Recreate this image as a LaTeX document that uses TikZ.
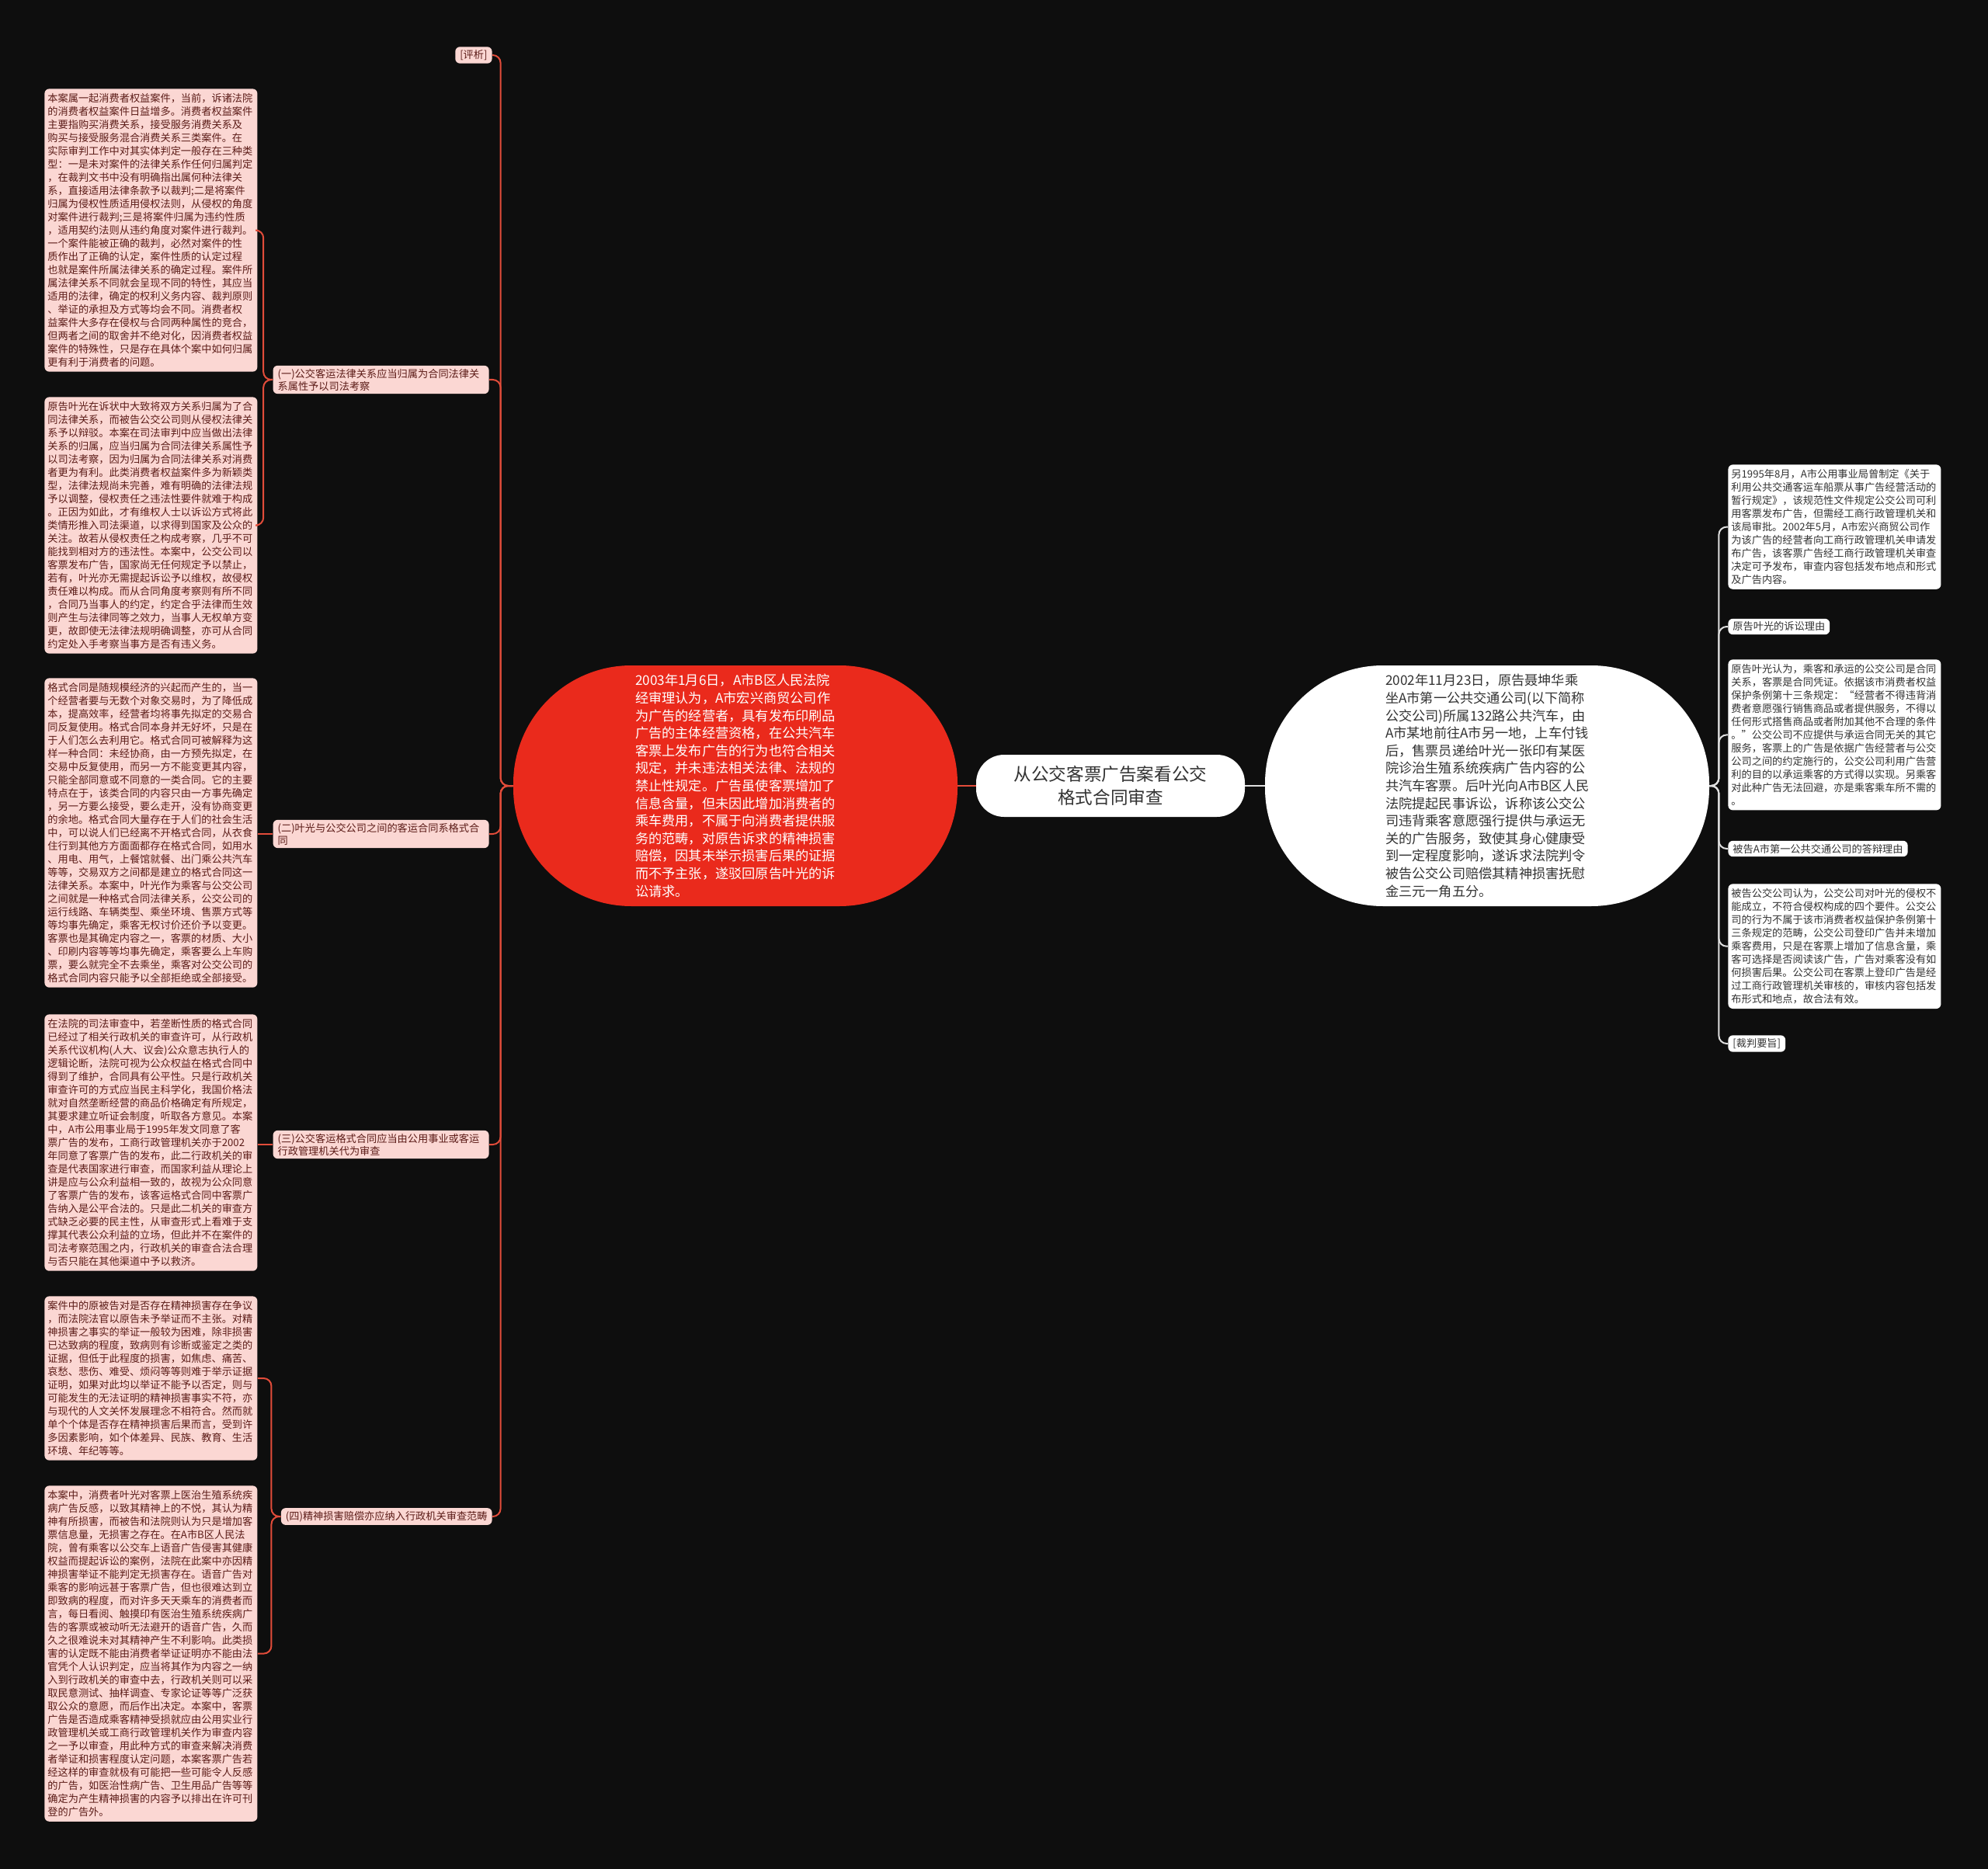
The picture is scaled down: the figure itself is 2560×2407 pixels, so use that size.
\documentclass[tikz,border=0pt]{standalone}
\usepackage{fontspec}
\setmainfont{Noto Sans CJK SC}
\definecolor{mmback}{RGB}{14,14,14}
\definecolor{mmpink}{RGB}{251,215,211}
\definecolor{mmmaroon}{RGB}{92,28,24}
\definecolor{mmred}{RGB}{234,42,28}
\definecolor{mmline}{RGB}{226,76,58}
\definecolor{mmgrey}{RGB}{222,222,222}
\definecolor{mmink}{RGB}{51,51,51}

\begin{document}
\begin{tikzpicture}[x=0.5pt,y=-0.5pt,
    leftnote/.style={anchor=north west, fill=mmpink, text=mmmaroon, rounded corners=3pt, inner xsep=2pt, inner ysep=3pt, text width=133pt, align=left, font=\fontsize{6.6pt}{8.5pt}\selectfont},
    rightnote/.style={leftnote, fill=white, text=mmink},
    leftlabel/.style={anchor=east, fill=mmpink, text=mmmaroon, rounded corners=3pt, inner xsep=3pt, inner ysep=2pt, align=left, font=\fontsize{6.6pt}{8pt}\selectfont},
    rightlabel/.style={leftlabel, anchor=west, fill=white, text=mmink},
    casenode/.style={rounded corners=76pt, minimum width=286pt, minimum height=155pt, align=left, font=\fontsize{8.6pt}{11.3pt}\selectfont},
    leftlink/.style={draw=mmline, line width=1pt, rounded corners=5pt},
    rightlink/.style={leftlink, draw=mmgrey}]
    % Fondo
    \fill[mmback] (0,0) rectangle (2560,2407);

    % Tema central y los dos casos
    \node[fill=white, text=mmink, rounded corners=18pt, minimum width=173pt, minimum height=40pt, align=center, font=\fontsize{11.3pt}{14.7pt}\selectfont] (title) at (1430,1012) {从公交客票广告案看公交\\格式合同审查};
    \node[casenode, fill=mmred, text=white, text width=129pt] (ruling) at (947,1012) {2003年1月6日，A市B区人民法院\\经审理认为，A市宏兴商贸公司作\\为广告的经营者，具有发布印刷品\\广告的主体经营资格，在公共汽车\\客票上发布广告的行为也符合相关\\规定，并未违法相关法律、法规的\\禁止性规定。广告虽使客票增加了\\信息含量，但未因此增加消费者的\\乘车费用，不属于向消费者提供服\\务的范畴，对原告诉求的精神损害\\赔偿，因其未举示损害后果的证据\\而不予主张，遂驳回原告叶光的诉\\讼请求。};
    \node[casenode, fill=white, text=mmink, text width=131pt] (facts) at (1915,1012) {2002年11月23日，原告聂坤华乘\\坐A市第一公共交通公司(以下简称\\公交公司)所属132路公共汽车，由\\A市某地前往A市另一地，上车付钱\\后，售票员递给叶光一张印有某医\\院诊治生殖系统疾病广告内容的公\\共汽车客票。后叶光向A市B区人民\\法院提起民事诉讼，诉称该公交公\\司违背乘客意愿强行提供与承运无\\关的广告服务，致使其身心健康受\\到一定程度影响，遂诉求法院判令\\被告公交公司赔偿其精神损害抚慰\\金三元一角五分。};
    \draw[leftlink] (ruling.east) -- (title.west);
    \draw[rightlink] (title.east) -- (facts.west);

    % Rama izquierda: etiquetas
    \node[leftlabel] (pj) at (634,71) {[评析]};
    \node[leftlabel, text width=133pt] (l1) at (630,489) {(一)公交客运法律关系应当归属为合同法律关\\系属性予以司法考察};
    \node[leftlabel, text width=133pt] (l2) at (630,1074) {(二)叶光与公交公司之间的客运合同系格式合\\同};
    \node[leftlabel, text width=133pt] (l3) at (630,1474) {(三)公交客运格式合同应当由公用事业或客运\\行政管理机关代为审查};
    \node[leftlabel] (l4) at (634,1953) {(四)精神损害赔偿亦应纳入行政机关审查范畴};

    % Rama izquierda: textos
    \node[leftnote] (n1) at (57,114) {本案属一起消费者权益案件，当前，诉诸法院\\的消费者权益案件日益增多。消费者权益案件\\主要指购买消费关系，接受服务消费关系及\\购买与接受服务混合消费关系三类案件。在\\实际审判工作中对其实体判定一般存在三种类\\型：一是未对案件的法律关系作任何归属判定\\，在裁判文书中没有明确指出属何种法律关\\系，直接适用法律条款予以裁判;二是将案件\\归属为侵权性质适用侵权法则，从侵权的角度\\对案件进行裁判;三是将案件归属为违约性质\\，适用契约法则从违约角度对案件进行裁判。\\一个案件能被正确的裁判，必然对案件的性\\质作出了正确的认定，案件性质的认定过程\\也就是案件所属法律关系的确定过程。案件所\\属法律关系不同就会呈现不同的特性，其应当\\适用的法律，确定的权利义务内容、裁判原则\\、举证的承担及方式等均会不同。消费者权\\益案件大多存在侵权与合同两种属性的竞合，\\但两者之间的取舍并不绝对化，因消费者权益\\案件的特殊性，只是存在具体个案中如何归属\\更有利于消费者的问题。};
    \node[leftnote] (n2) at (57,511) {原告叶光在诉状中大致将双方关系归属为了合\\同法律关系，而被告公交公司则从侵权法律关\\系予以辩驳。本案在司法审判中应当做出法律\\关系的归属，应当归属为合同法律关系属性予\\以司法考察，因为归属为合同法律关系对消费\\者更为有利。此类消费者权益案件多为新颖类\\型，法律法规尚未完善，难有明确的法律法规\\予以调整，侵权责任之违法性要件就难于构成\\。正因为如此，才有维权人士以诉讼方式将此\\类情形推入司法渠道，以求得到国家及公众的\\关注。故若从侵权责任之构成考察，几乎不可\\能找到相对方的违法性。本案中，公交公司以\\客票发布广告，国家尚无任何规定予以禁止，\\若有，叶光亦无需提起诉讼予以维权，故侵权\\责任难以构成。而从合同角度考察则有所不同\\，合同乃当事人的约定，约定合乎法律而生效\\则产生与法律同等之效力，当事人无权单方变\\更，故即使无法律法规明确调整，亦可从合同\\约定处入手考察当事方是否有违义务。};
    \node[leftnote] (n3) at (57,873) {格式合同是随规模经济的兴起而产生的，当一\\个经营者要与无数个对象交易时，为了降低成\\本，提高效率，经营者均将事先拟定的交易合\\同反复使用。格式合同本身并无好坏，只是在\\于人们怎么去利用它。格式合同可被解释为这\\样一种合同：未经协商，由一方预先拟定，在\\交易中反复使用，而另一方不能变更其内容，\\只能全部同意或不同意的一类合同。它的主要\\特点在于，该类合同的内容只由一方事先确定\\，另一方要么接受，要么走开，没有协商变更\\的余地。格式合同大量存在于人们的社会生活\\中，可以说人们已经离不开格式合同，从衣食\\住行到其他方方面面都存在格式合同，如用水\\、用电、用气，上餐馆就餐、出门乘公共汽车\\等等，交易双方之间都是建立的格式合同这一\\法律关系。本案中，叶光作为乘客与公交公司\\之间就是一种格式合同法律关系，公交公司的\\运行线路、车辆类型、乘坐环境、售票方式等\\等均事先确定，乘客无权讨价还价予以变更。\\客票也是其确定内容之一，客票的材质、大小\\、印刷内容等等均事先确定，乘客要么上车购\\票，要么就完全不去乘坐，乘客对公交公司的\\格式合同内容只能予以全部拒绝或全部接受。};
    \node[leftnote] (n4) at (57,1306) {在法院的司法审查中，若垄断性质的格式合同\\已经过了相关行政机关的审查许可，从行政机\\关系代议机构(人大、议会)公众意志执行人的\\逻辑论断，法院可视为公众权益在格式合同中\\得到了维护，合同具有公平性。只是行政机关\\审查许可的方式应当民主科学化，我国价格法\\就对自然垄断经营的商品价格确定有所规定，\\其要求建立听证会制度，听取各方意见。本案\\中，A市公用事业局于1995年发文同意了客\\票广告的发布，工商行政管理机关亦于2002\\年同意了客票广告的发布，此二行政机关的审\\查是代表国家进行审查，而国家利益从理论上\\讲是应与公众利益相一致的，故视为公众同意\\了客票广告的发布，该客运格式合同中客票广\\告纳入是公平合法的。只是此二机关的审查方\\式缺乏必要的民主性，从审查形式上看难于支\\撑其代表公众利益的立场，但此并不在案件的\\司法考察范围之内，行政机关的审查合法合理\\与否只能在其他渠道中予以救济。};
    \node[leftnote] (n5) at (57,1669) {案件中的原被告对是否存在精神损害存在争议\\，而法院法官以原告未予举证而不主张。对精\\神损害之事实的举证一般较为困难，除非损害\\已达致病的程度，致病则有诊断或鉴定之类的\\证据，但低于此程度的损害，如焦虑、痛苦、\\哀愁、悲伤、难受、烦闷等等则难于举示证据\\证明，如果对此均以举证不能予以否定，则与\\可能发生的无法证明的精神损害事实不符，亦\\与现代的人文关怀发展理念不相符合。然而就\\单个个体是否存在精神损害后果而言，受到许\\多因素影响，如个体差异、民族、教育、生活\\环境、年纪等等。};
    \node[leftnote] (n6) at (57,1913) {本案中，消费者叶光对客票上医治生殖系统疾\\病广告反感，以致其精神上的不悦，其认为精\\神有所损害，而被告和法院则认为只是增加客\\票信息量，无损害之存在。在A市B区人民法\\院，曾有乘客以公交车上语音广告侵害其健康\\权益而提起诉讼的案例，法院在此案中亦因精\\神损害举证不能判定无损害存在。语音广告对\\乘客的影响远甚于客票广告，但也很难达到立\\即致病的程度，而对许多天天乘车的消费者而\\言，每日看阅、触摸印有医治生殖系统疾病广\\告的客票或被动听无法避开的语音广告，久而\\久之很难说未对其精神产生不利影响。此类损\\害的认定既不能由消费者举证证明亦不能由法\\官凭个人认识判定，应当将其作为内容之一纳\\入到行政机关的审查中去，行政机关则可以采\\取民意测试、抽样调查、专家论证等等广泛获\\取公众的意愿，而后作出决定。本案中，客票\\广告是否造成乘客精神受损就应由公用实业行\\政管理机关或工商行政管理机关作为审查内容\\之一予以审查，用此种方式的审查来解决消费\\者举证和损害程度认定问题，本案客票广告若\\经这样的审查就极有可能把一些可能令人反感\\的广告，如医治性病广告、卫生用品广告等等\\确定为产生精神损害的内容予以排出在许可刊\\登的广告外。};

    % Rama izquierda: conectores
    \draw[leftlink] (ruling.west) -- ++(-16,0) |- (pj.east);
    \draw[leftlink] (ruling.west) -- ++(-16,0) |- (l1.east);
    \draw[leftlink] (ruling.west) -- ++(-16,0) |- (l2.east);
    \draw[leftlink] (ruling.west) -- ++(-16,0) |- (l3.east);
    \draw[leftlink] (ruling.west) -- ++(-16,0) |- (l4.east);
    \draw[leftlink] (l1.west) -- ++(-12,0) |- (n1.east);
    \draw[leftlink] (l1.west) -- ++(-12,0) |- (n2.east);
    \draw[leftlink] (l2.west) -- (n3.east |- l2.west);
    \draw[leftlink] (l3.west) -- (n4.east |- l3.west);
    \draw[leftlink] (l4.west) -- ++(-12,0) |- (n5.east);
    \draw[leftlink] (l4.west) -- ++(-12,0) |- (n6.east);

    % Rama derecha
    \node[rightnote] (r1) at (2225,598) {另1995年8月，A市公用事业局曾制定《关于\\利用公共交通客运车船票从事广告经营活动的\\暂行规定》，该规范性文件规定公交公司可利\\用客票发布广告，但需经工商行政管理机关和\\该局审批。2002年5月，A市宏兴商贸公司作\\为该广告的经营者向工商行政管理机关申请发\\布广告，该客票广告经工商行政管理机关审查\\决定可予发布，审查内容包括发布地点和形式\\及广告内容。};
    \node[rightlabel] (r2) at (2225,807) {原告叶光的诉讼理由};
    \node[rightnote] (r3) at (2225,849) {原告叶光认为，乘客和承运的公交公司是合同\\关系，客票是合同凭证。依据该市消费者权益\\保护条例第十三条规定：“经营者不得违背消\\费者意愿强行销售商品或者提供服务，不得以\\任何形式搭售商品或者附加其他不合理的条件\\。”公交公司不应提供与承运合同无关的其它\\服务，客票上的广告是依据广告经营者与公交\\公司之间的约定施行的，公交公司利用广告营\\利的目的以承运乘客的方式得以实现。另乘客\\对此种广告无法回避，亦是乘客乘车所不需的\\。};
    \node[rightlabel] (r4) at (2225,1093) {被告A市第一公共交通公司的答辩理由};
    \node[rightnote] (r5) at (2225,1138) {被告公交公司认为，公交公司对叶光的侵权不\\能成立，不符合侵权构成的四个要件。公交公\\司的行为不属于该市消费者权益保护条例第十\\三条规定的范畴，公交公司登印广告并未增加\\乘客费用，只是在客票上增加了信息含量，乘\\客可选择是否阅读该广告，广告对乘客没有如\\何损害后果。公交公司在客票上登印广告是经\\过工商行政管理机关审核的，审核内容包括发\\布形式和地点，故合法有效。};
    \node[rightlabel] (r6) at (2225,1344) {[裁判要旨]};

    % Rama derecha: conectores
    \draw[rightlink] (facts.east) -- ++(12,0) |- (r1.west);
    \draw[rightlink] (facts.east) -- ++(12,0) |- (r2.west);
    \draw[rightlink] (facts.east) -- ++(12,0) |- (r3.west);
    \draw[rightlink] (facts.east) -- ++(12,0) |- (r4.west);
    \draw[rightlink] (facts.east) -- ++(12,0) |- (r5.west);
    \draw[rightlink] (facts.east) -- ++(12,0) |- (r6.west);
\end{tikzpicture}
\end{document}
